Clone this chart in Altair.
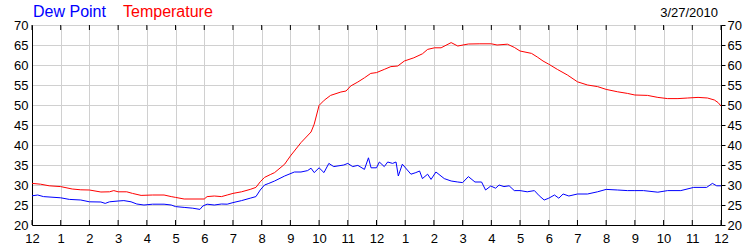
import altair as alt
import pandas as pd

# ---- data ----
temp_hours = [0, 0.3, 0.6, 1.0, 1.4, 1.7, 2.0, 2.4, 2.7, 2.85, 3.0, 3.3, 3.5, 3.8, 4.2, 4.6, 4.85,
              5.0, 5.3, 6.0, 6.1, 6.35, 6.6, 6.8, 7.0, 7.3, 7.6, 7.8, 7.95, 8.1, 8.3, 8.45, 8.8,
              9.0, 9.37, 9.72, 9.83, 10.0, 10.18, 10.4, 10.76, 10.94, 11.1, 11.35, 11.58, 11.8,
              12.0, 12.27, 12.5, 12.74, 12.97, 13.3, 13.6, 13.78, 14.02, 14.25, 14.6, 14.83, 15.2,
              15.6, 16.0, 16.2, 16.56, 16.8, 17.0, 17.4, 17.6, 17.8, 18.0, 18.3, 18.65, 19.0,
              19.35, 19.7, 20.0, 20.4, 20.74, 21.0, 21.44, 21.8, 22.14, 22.5, 22.84, 23.2, 23.53,
              23.77, 23.9, 24.0]
temp_values = [30.4, 30.2, 29.8, 29.6, 29.0, 28.8, 28.75, 28.25, 28.3, 28.6, 28.3, 28.3, 27.9, 27.4,
               27.5, 27.5, 27.1, 26.9, 26.5, 26.5, 27.1, 27.25, 27.1, 27.5, 27.9, 28.3, 28.9, 29.4,
               30.8, 31.9, 32.6, 33.1, 35.2, 37.25, 40.6, 43.25, 45.2, 49.9, 51.2, 52.4, 53.25, 53.5,
               54.75, 55.75, 56.8, 57.9, 58.1, 58.9, 59.6, 59.75, 61.0, 61.8, 62.8, 63.9, 64.3, 64.3,
               65.6, 64.75, 65.25, 65.3, 65.3, 65.0, 65.2, 64.4, 63.5, 62.9, 62.0, 61.0, 60.2, 58.9,
               57.5, 55.8, 55.0, 54.6, 53.9, 53.3, 52.9, 52.5, 52.4, 51.9, 51.6, 51.6, 51.75, 51.9,
               51.75, 51.25, 50.6, 49.75]

dew_hours = [0, 0.2, 0.4, 1.0, 1.3, 1.7, 2.0, 2.4, 2.55, 2.7, 3.0, 3.2, 3.45, 3.65, 3.9, 4.2, 4.6,
             4.85, 5.0, 5.3, 5.6, 5.85, 5.95, 6.1, 6.35, 6.6, 6.8, 7.0, 7.3, 7.6, 7.8, 7.95, 8.1,
             8.25, 8.45, 8.8, 9.14, 9.37, 9.6, 9.72, 9.83, 10.0, 10.17, 10.34, 10.51, 10.86, 11.0,
             11.17, 11.35, 11.58, 11.72, 11.81, 12.0, 12.1, 12.27, 12.39, 12.56, 12.68, 12.76,
             12.9, 13.2, 13.37, 13.5, 13.6, 13.78, 13.9, 14.07, 14.36, 14.6, 14.83, 15.0, 15.2,
             15.43, 15.66, 15.8, 15.98, 16.15, 16.27, 16.44, 16.62, 16.8, 17.0, 17.25, 17.5,
             17.67, 17.84, 18.0, 18.2, 18.35, 18.5, 18.7, 19.0, 19.35, 19.7, 20.0, 20.4, 20.74,
             21.0, 21.3, 21.8, 22.14, 22.6, 23.05, 23.5, 23.7, 23.85, 24.0]
dew_values = [27.3, 27.5, 27.1, 26.8, 26.4, 26.25, 25.8, 25.75, 25.4, 25.8, 26.0, 26.1, 25.8, 25.25,
              25.0, 25.2, 25.2, 25.0, 24.6, 24.4, 24.2, 23.9, 24.75, 25.2, 25.0, 25.25, 25.2, 25.6,
              26.1, 26.7, 27.1, 28.75, 30.0, 30.4, 31.0, 32.25, 33.25, 33.25, 33.6, 34.2, 33.1,
              34.3, 33.1, 35.4, 34.6, 35.0, 35.4, 34.6, 34.9, 33.9, 36.8, 34.3, 34.3, 35.75, 34.6,
              35.75, 35.4, 35.75, 32.25, 35.2, 32.7, 33.1, 33.5, 31.6, 32.7, 31.4, 33.25, 31.6,
              31.0, 30.75, 30.6, 32.1, 30.75, 30.75, 28.75, 29.75, 29.2, 30.0, 29.6, 29.8, 28.6,
              28.6, 28.3, 28.6, 27.3, 26.25, 26.7, 27.5, 26.7, 27.75, 27.25, 27.75, 27.75, 28.3,
              28.9, 28.75, 28.6, 28.6, 28.6, 28.2, 28.6, 28.6, 29.4, 29.4, 30.4, 29.8, 29.8]

hour_ticks = list(range(25))
hour_labels = ["12", "1", "2", "3", "4", "5", "6", "7", "8", "9", "10", "11",
               "12", "1", "2", "3", "4", "5", "6", "7", "8", "9", "10", "11", "12"]
y_ticks = [20, 25, 30, 35, 40, 45, 50, 55, 60, 65, 70]
legend_names = ["Dew Point", "Temperature"]
date_text = ["3/27/2010"]

temp_df = pd.DataFrame({"h": temp_hours, "v": temp_values})
dew_df = pd.DataFrame({"h": dew_hours, "v": dew_values})
tick_df = pd.DataFrame({"h": hour_ticks})

FONT = "Liberation Sans"
W, H = 689, 200

x_scale = alt.Scale(domain=[0, 24], nice=False, zero=False)
y_scale = alt.Scale(domain=[20, 70], nice=False, zero=False)
label_expr = "[" + ",".join("'%s'" % s for s in hour_labels) + "][datum.value]"
x_axis = alt.Axis(values=hour_ticks, labelExpr=label_expr, tickSize=0, labelPadding=7,
                  labelFlush=False, grid=True, domainColor="black")


def xenc():
    return alt.X("h:Q", scale=x_scale, title=None, axis=x_axis)


temp_line = alt.Chart(temp_df).mark_line(color="#ff0000", strokeWidth=1).encode(
    x=xenc(),
    y=alt.Y("v:Q", scale=y_scale, title=None,
            axis=alt.Axis(values=y_ticks, orient="left", tickSize=0, labelPadding=4,
                          grid=True, domainColor="black")),
)

dew_line = alt.Chart(dew_df).mark_line(color="#0000ff", strokeWidth=1).encode(
    x=xenc(),
    y=alt.Y("v:Q", scale=y_scale, title=None,
            axis=alt.Axis(values=y_ticks, orient="right", tickSize=4, labelPadding=2,
                          grid=False, domainColor="black")),
)

top_ticks = alt.Chart(tick_df).mark_rule(color="black", strokeWidth=1).encode(
    x=xenc(), y=alt.value(0), y2=alt.value(5),
)
bottom_ticks = alt.Chart(tick_df).mark_rule(color="black", strokeWidth=1).encode(
    x=xenc(), y=alt.value(H - 5), y2=alt.value(H),
)

dew_title = alt.Chart(pd.DataFrame({"t": [legend_names[0]]})).mark_text(
    align="left", baseline="alphabetic", font=FONT, fontSize=16, color="#0000ff"
).encode(text="t:N", x=alt.value(1), y=alt.value(-8))
temp_title = alt.Chart(pd.DataFrame({"t": [legend_names[1]]})).mark_text(
    align="left", baseline="alphabetic", font=FONT, fontSize=16, color="#ff0000"
).encode(text="t:N", x=alt.value(91), y=alt.value(-8))
date_label = alt.Chart(pd.DataFrame({"t": date_text})).mark_text(
    align="right", baseline="alphabetic", font=FONT, fontSize=13, color="black"
).encode(text="t:N", x=alt.value(686), y=alt.value(-8))

chart = alt.layer(
    temp_line, dew_line, top_ticks, bottom_ticks, dew_title, temp_title, date_label
).resolve_axis(y="independent").properties(
    width=W, height=H,
    autosize=alt.AutoSizeParams(type="none"),
    padding={"left": 32, "top": 25, "right": 29, "bottom": 25},
    background="white",
).configure_view(stroke="black", strokeWidth=1).configure_axis(
    labelFont=FONT, labelFontSize=13, labelColor="black",
    gridColor="#d0d0d0", gridWidth=1, domainWidth=1, tickColor="black",
)

chart.save("out.html", embed_options={"renderer": "svg", "actions": False})
